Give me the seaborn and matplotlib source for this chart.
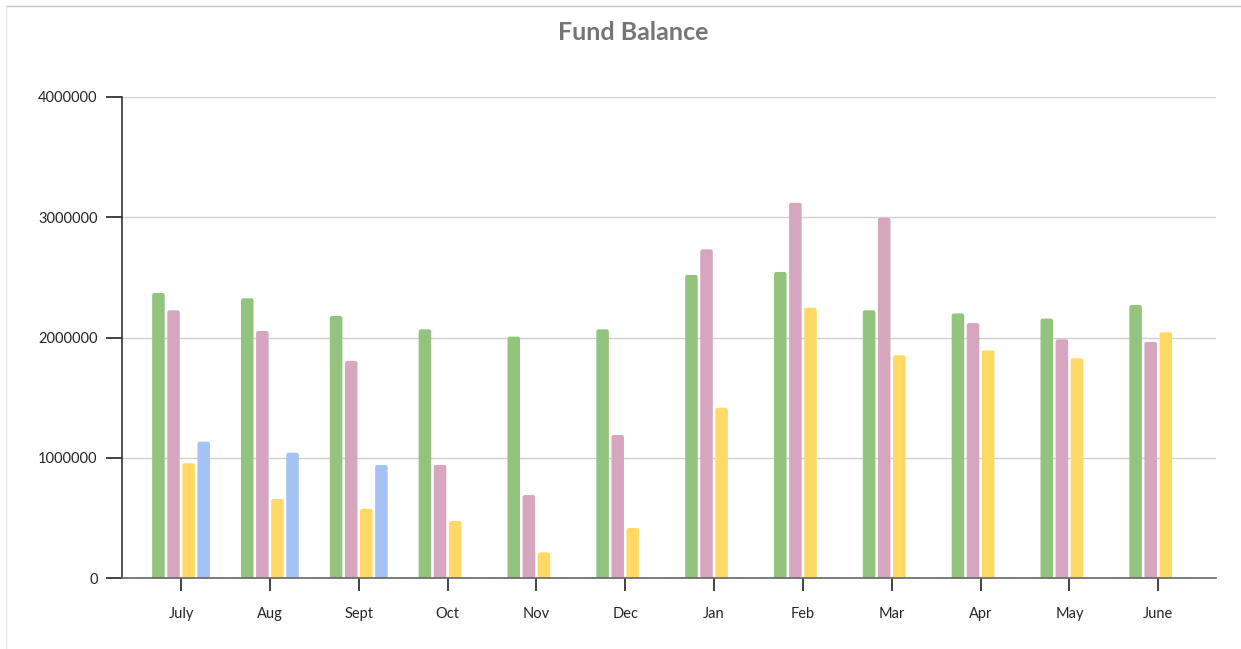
import numpy as np
import pandas as pd
import matplotlib.pyplot as plt
import seaborn as sns
from matplotlib.ticker import FuncFormatter
from matplotlib.lines import Line2D
from matplotlib.patches import FancyBboxPatch

months = ['July', 'Aug', 'Sept', 'Oct', 'Nov', 'Dec',
          'Jan', 'Feb', 'Mar', 'Apr', 'May', 'June']
series = ['Year 1', 'Year 2', 'Year 3', 'Year 4']

year1 = [2370000, 2326000, 2179000, 2068000, 2007000, 2068000,
         2520000, 2545000, 2226000, 2200000, 2157000, 2270000]
year2 = [2226000, 2054000, 1805000, 940000, 690000, 1189000,
         2733000, 3120000, 2996000, 2120000, 1985000, 1963000]
year3 = [954000, 657000, 576000, 474000, 213000, 416000,
         1416000, 2248000, 1852000, 1893000, 1827000, 2043000]
year4 = [1134000, 1042000, 940000]  # only first three months reported

colors = ['#93c47d', '#d5a6bd', '#ffd966', '#a4c2f4']

# long-form table for seaborn
rows = []
for name, vals in zip(series, [year1, year2, year3, year4]):
    for m, v in zip(months, vals):
        rows.append({'month': m, 'series': name, 'balance': v})
df = pd.DataFrame(rows)

sns.set_style('white')
plt.rcParams['font.family'] = ['Lato', 'DejaVu Sans']

fig = plt.figure(figsize=(12.41, 6.49), dpi=100)
ax = fig.add_axes([122 / 1241, 71 / 649, 1094 / 1241, 481 / 649])

sns.barplot(data=df, x='month', y='balance', hue='series',
            order=months, hue_order=series, palette=colors,
            saturation=1, width=0.68, gap=0.17, linewidth=0,
            errorbar=None, legend=False, ax=ax, zorder=3)

ax.set_xlim(-0.665, 11.65)
ax.set_ylim(0, 4000000)

# swap the plain rectangles for ones with slightly rounded tops
px_x = 12.35 / 1094   # data units per pixel, x
px_y = 4000000 / 481  # data units per pixel, y
for bar in list(ax.patches):
    x0, w, h = bar.get_x(), bar.get_width(), bar.get_height()
    if not np.isfinite(h) or h <= 0:
        continue
    rb = FancyBboxPatch((x0, -3 * px_y), w, h + 3 * px_y,
                        boxstyle=f'round,pad=0,rounding_size={2.2 * px_x}',
                        mutation_aspect=px_y / px_x,
                        facecolor=bar.get_facecolor(), linewidth=0, zorder=3)
    bar.remove()
    ax.add_patch(rb)

ax.set_yticks([0, 1000000, 2000000, 3000000, 4000000])
ax.yaxis.set_major_formatter(FuncFormatter(lambda v, p: f'{int(v)}'))
ax.grid(axis='y', color='#d0d0d0', linewidth=1, zorder=0)
ax.set_axisbelow(True)
ax.set_xlabel('')
ax.set_ylabel('')

for side in ['top', 'right']:
    ax.spines[side].set_visible(False)
ax.spines['left'].set_color('#333333')
ax.spines['left'].set_linewidth(1.2)
ax.spines['bottom'].set_color('#666666')
ax.spines['bottom'].set_linewidth(1.2)
ax.spines['bottom'].set_zorder(4)

ax.tick_params(axis='y', length=11.5, width=1.2, color='#222222',
               labelsize=10.5, pad=6, left=True)
ax.tick_params(axis='x', length=9, width=1.2, color='#222222',
               labelsize=10.5, pad=12, bottom=True)

fig.suptitle('Fund Balance', x=633 / 1241, y=1 - 32 / 649, va='center',
             fontsize=18, fontweight='bold', color='#757575')

# thin frame around the chart area
fig.add_artist(Line2D([6 / 1241, 1], [1 - 6 / 649, 1 - 6 / 649],
                      color='#c8c8c8', linewidth=1))
fig.add_artist(Line2D([6 / 1241, 6 / 1241], [0, 1 - 6 / 649],
                      color='#e6e6e6', linewidth=1))

fig.savefig('out.png', dpi=100, facecolor='white')
